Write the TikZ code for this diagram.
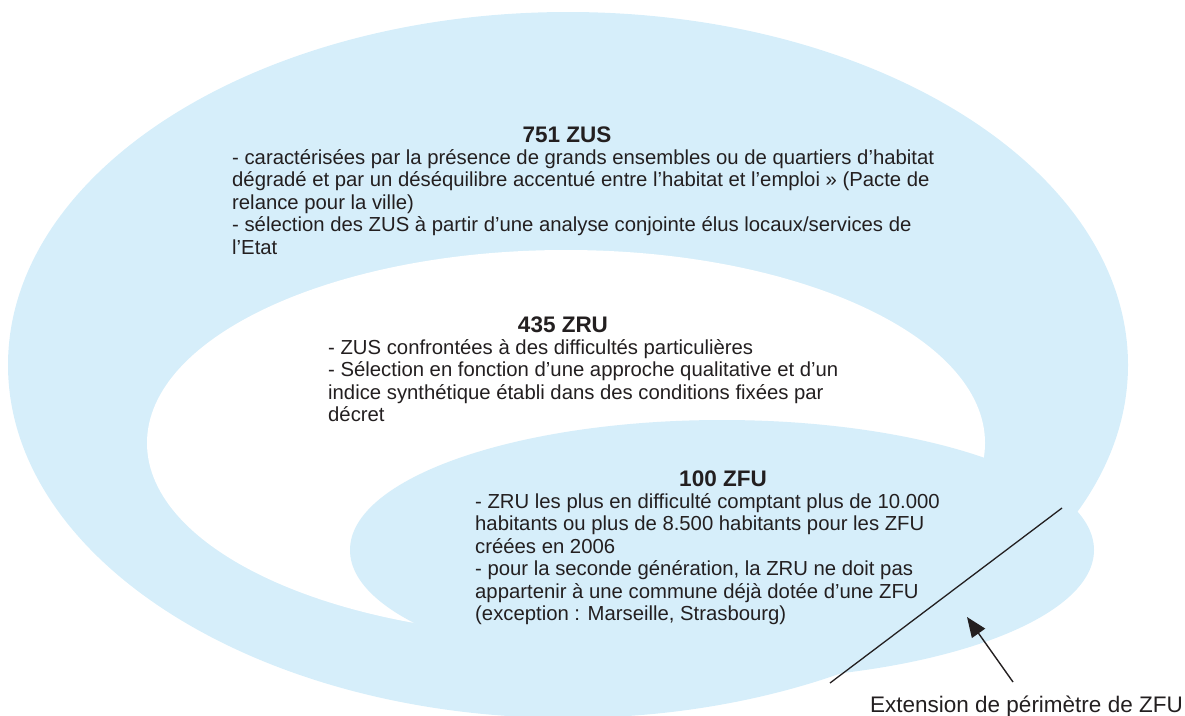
\documentclass[tikz,border=0pt]{standalone}
\usepackage{fontspec}
\setmainfont{Liberation Sans}
\usetikzlibrary{arrows.meta,positioning}
\definecolor{zoneblue}{RGB}{214,238,250}
\definecolor{inkgray}{RGB}{35,31,32}

\begin{document}
\begin{tikzpicture}[x=1pt, y=-1pt,
    title/.style={anchor=base, inner sep=0pt, text=inkgray,
        font=\fontsize{22.5}{25}\selectfont\bfseries},
    body/.style={anchor=north west, inner sep=0pt, align=left, text=inkgray,
        font=\fontsize{20.3}{22.5}\selectfont},
    pointer/.style={-{Triangle[length=20pt,width=16pt]}, line width=1.4pt, inkgray}]
    \useasboundingbox (0,0) rectangle (1185,715);
    % zones
    \fill[zoneblue] (568,365) ellipse [x radius=560pt, y radius=353pt];
    \fill[white] (566,443) ellipse [x radius=419pt, y radius=193pt];
    \fill[zoneblue] (722,550) ellipse [x radius=372pt, y radius=130pt];
    % texts
    \node[title] (zus) at (567,142) {751 ZUS};
    \node[body] (zustext) at (232,149) {- caractérisées par la présence de grands ensembles ou de quartiers d’habitat\\
        dégradé et par un déséquilibre accentué entre l’habitat et l’emploi » (Pacte de\\
        relance pour la ville)\\
        - sélection des ZUS à partir d’une analyse conjointe élus locaux/services de\\
        l’Etat};
    \node[title] (zru) at (563,332) {435 ZRU};
    \node[body] (zrutext) at (328,339) {- ZUS confrontées à des difficultés particulières\\
        - Sélection en fonction d’une approche qualitative et d’un\\
        indice synthétique établi dans des conditions fixées par\\
        décret};
    \node[title] (zfu) at (723,486) {100 ZFU};
    \node[body] (zfutext) at (475,493) {- ZRU les plus en difficulté comptant plus de 10.000\\
        habitants ou plus de 8.500 habitants pour les ZFU\\
        créées en 2006\\
        - pour la seconde génération, la ZRU ne doit pas\\
        appartenir à une commune déjà dotée d’une ZFU\\
        (exception : Marseille, Strasbourg)};
    % extension
    \coordinate (cutA) at (830,683);
    \coordinate (cutB) at (1062,508);
    \draw[line width=1.3pt, inkgray] (cutA) -- (cutB);
    \node[anchor=base east, inner sep=0pt, text=inkgray, font=\fontsize{22.5}{25}\selectfont]
        (ext) at (1183,712) {Extension de périmètre de ZFU};
    \coordinate (tail) at (1013,682);
    \coordinate (tip) at (967,617);
    \draw[pointer] (tail) -- (tip);
\end{tikzpicture}
\end{document}
